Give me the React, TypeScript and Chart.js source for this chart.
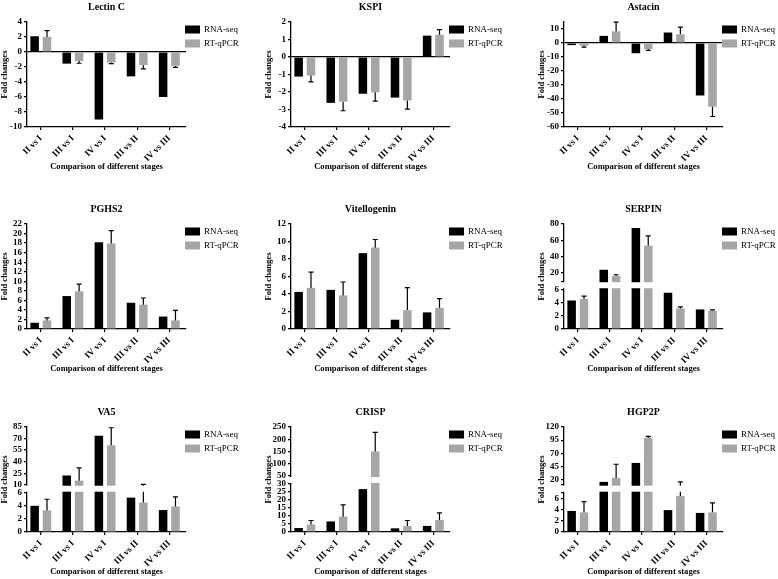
import React, { useEffect, useRef } from 'react';
import { Chart, registerables, LinearScale } from 'chart.js';

Chart.register(...registerables);

const SERIF = "'Liberation Serif', 'Times New Roman', serif";
Chart.defaults.font.family = SERIF;
Chart.defaults.color = '#000';

// ---------------- data ----------------
const categories = ['II vs I', 'III vs I', 'IV vs I', 'III vs II', 'IV vs III'];
const seriesLabels = ['RNA-seq', 'RT-qPCR'];
const xAxisTitle = 'Comparison of different stages';
const yAxisTitle = 'Fold changes';

const lectinRna = [2.1, -1.55, -9.0, -3.25, -6.0];
const lectinQpcr = [2.0, -1.2, -1.4, -1.75, -1.85];
const lectinErr = [0.85, 0.3, 0.15, 0.5, 0.2];
const lectinTicks = [-10, -8, -6, -4, -2, 0, 2, 4];
const lectinRange = [[-10, 4]];

const kspiRna = [-1.12, -2.62, -2.1, -2.32, 1.22];
const kspiQpcr = [-1.06, -2.55, -2.02, -2.48, 1.27];
const kspiErr = [0.36, 0.52, 0.5, 0.5, 0.3];
const kspiTicks = [-4, -3, -2, -1, 0, 1, 2];
const kspiRange = [[-4, 2]];

const astacinRna = [-1.5, 5.1, -7.3, 7.5, -37.5];
const astacinQpcr = [-2.0, 8.3, -4.3, 6.2, -45.5];
const astacinErr = [1.0, 6.6, 1.0, 5.2, 7.0];
const astacinTicks = [-60, -50, -40, -30, -20, -10, 0, 10];
const astacinRange = [[-60, 15]];

const pghs2Rna = [1.3, 6.9, 18.2, 5.5, 2.6];
const pghs2Qpcr = [1.8, 7.9, 17.9, 5.1, 1.8];
const pghs2Err = [0.55, 1.5, 2.7, 1.4, 2.1];
const pghs2Ticks = [0, 2, 4, 6, 8, 10, 12, 14, 16, 18, 20, 22];
const pghs2Range = [[0, 22]];

const vitRna = [4.24, 4.47, 8.67, 1.06, 1.9];
const vitQpcr = [4.7, 3.84, 9.3, 2.16, 2.42];
const vitErr = [1.8, 1.53, 0.93, 2.57, 1.06];
const vitTicks = [0, 2, 4, 6, 8, 10, 12];
const vitRange = [[0, 12]];

const serpinRna = [4.3, 24, 75, 5.47, 2.95];
const serpinQpcr = [4.5, 16.3, 53.5, 3.1, 2.74];
const serpinErr = [0.45, 1.6, 12, 0.25, 0.15];
const serpinTicks = [0, 2, 4, 6, 10, 20, 40, 60, 80];
const serpinUnlabeled = [10];
const serpinRange = [[0, 6], [10, 80]];

const va5Rna = [4.0, 22, 73.5, 5.25, 3.35];
const va5Qpcr = [3.3, 15.3, 61.4, 4.5, 3.9];
const va5Err = [1.7, 16.7, 22.6, 6.0, 1.45];
const va5Ticks = [0, 2, 4, 6, 10, 25, 40, 55, 70, 85];
const va5Range = [[0, 6], [10, 85]];

const crispRna = [2.5, 6.6, 26.8, 2.3, 3.8];
const crispQpcr = [4.7, 9.6, 150, 3.7, 7.5];
const crispErr = [2.5, 7.4, 78, 3.5, 4.4];
const crispTicks = [0, 5, 10, 15, 20, 25, 30, 50, 100, 150, 200, 250];
const crispRange = [[0, 30], [50, 250]];

const hgpRna = [3.75, 15.4, 51.5, 3.9, 3.4];
const hgpQpcr = [3.5, 23, 99, 6.4, 3.5];
const hgpErr = [1.9, 26, 3, 9.1, 1.7];
const hgpTicks = [0, 2, 4, 6, 7, 10, 20, 45, 70, 95, 120];
const hgpUnlabeled = [7, 10];
const hgpRange = [[0, 7], [10, 120]];

// ---------------- layout ----------------
const Y_AXIS_W = 28;
const PLOT_W = 159;
const X_AXIS_H = 47;
const CANVAS_H = 174;
const GAP = 8;
const COL_LEFT = [-1, 263, 536];
const COL_W = [262, 262, 242];
const ROW_TOP = [0, 202, 405];

type PanelDef = {
  title: string;
  rna: number[];
  qpcr: number[];
  err: number[];
  ticks: number[];
  unlabeled: number[];
  segments: number[][];
  lowerFrac: number;
  col: number;
  row: number;
};

const PANELS: PanelDef[] = [
  { title: 'Lectin C', rna: lectinRna, qpcr: lectinQpcr, err: lectinErr, ticks: lectinTicks, unlabeled: [], segments: lectinRange, lowerFrac: 1, col: 0, row: 0 },
  { title: 'KSPI', rna: kspiRna, qpcr: kspiQpcr, err: kspiErr, ticks: kspiTicks, unlabeled: [], segments: kspiRange, lowerFrac: 1, col: 1, row: 0 },
  { title: 'Astacin', rna: astacinRna, qpcr: astacinQpcr, err: astacinErr, ticks: astacinTicks, unlabeled: [], segments: astacinRange, lowerFrac: 1, col: 2, row: 0 },
  { title: 'PGHS2', rna: pghs2Rna, qpcr: pghs2Qpcr, err: pghs2Err, ticks: pghs2Ticks, unlabeled: [], segments: pghs2Range, lowerFrac: 1, col: 0, row: 1 },
  { title: 'Vitellogenin', rna: vitRna, qpcr: vitQpcr, err: vitErr, ticks: vitTicks, unlabeled: [], segments: vitRange, lowerFrac: 1, col: 1, row: 1 },
  { title: 'SERPIN', rna: serpinRna, qpcr: serpinQpcr, err: serpinErr, ticks: serpinTicks, unlabeled: serpinUnlabeled, segments: serpinRange, lowerFrac: 0.41, col: 2, row: 1 },
  { title: 'VA5', rna: va5Rna, qpcr: va5Qpcr, err: va5Err, ticks: va5Ticks, unlabeled: [], segments: va5Range, lowerFrac: 0.405, col: 0, row: 2 },
  { title: 'CRISP', rna: crispRna, qpcr: crispQpcr, err: crispErr, ticks: crispTicks, unlabeled: [], segments: crispRange, lowerFrac: 0.495, col: 1, row: 2 },
  { title: 'HGP2P', rna: hgpRna, qpcr: hgpQpcr, err: hgpErr, ticks: hgpTicks, unlabeled: hgpUnlabeled, segments: hgpRange, lowerFrac: 0.405, col: 2, row: 2 },
];

const SCALE_CFG: Record<string, PanelDef> = {};
PANELS.forEach((p) => { SCALE_CFG[p.title] = p; });

// ---------------- broken (segmented) linear scale ----------------
class BrokenLinearScale extends LinearScale {
  static id = 'brokenLinear';

  cfg(): PanelDef {
    return SCALE_CFG[(this.options as any).panelKey];
  }
  determineDataLimits() {
    const segs = this.cfg().segments;
    (this as any).min = segs[0][0];
    (this as any).max = segs[segs.length - 1][1];
  }
  buildTicks() {
    (this as any).start = (this as any).min;
    (this as any).end = (this as any).max;
    return this.cfg().ticks.map((v) => ({ value: v })) as any;
  }
  toDecimal(v: number): number {
    const cfg = this.cfg();
    const segs = cfg.segments;
    const L = Math.abs((this as any)._length || 0);
    if (segs.length === 1 || !L) {
      const a = segs[0][0];
      const b = segs[segs.length - 1][1];
      return (v - a) / (b - a);
    }
    const [a0, a1] = segs[0];
    const [b0, b1] = segs[1];
    const avail = L - GAP;
    const h1 = avail * cfg.lowerFrac;
    const h2 = avail - h1;
    let p: number;
    if (v <= a1) p = ((v - a0) / (a1 - a0)) * h1;
    else if (v < b0) p = h1 + ((v - a1) / (b0 - a1)) * GAP;
    else p = h1 + GAP + ((v - b0) / (b1 - b0)) * h2;
    return p / L;
  }
  getPixelForValue(value: any) {
    if (value === null || value === undefined || isNaN(value)) return NaN;
    return this.getPixelForDecimal(this.toDecimal(+value));
  }
  getValueForPixel(pixel: number) {
    const d = this.getDecimalForPixel(pixel);
    const cfg = this.cfg();
    const segs = cfg.segments;
    const L = Math.abs((this as any)._length || 0);
    if (segs.length === 1 || !L) {
      const a = segs[0][0];
      const b = segs[segs.length - 1][1];
      return a + d * (b - a);
    }
    const [a0, a1] = segs[0];
    const [b0, b1] = segs[1];
    const avail = L - GAP;
    const h1 = avail * cfg.lowerFrac;
    const h2 = avail - h1;
    const p = d * L;
    if (p <= h1) return a0 + (p / h1) * (a1 - a0);
    if (p < h1 + GAP) return a1 + ((p - h1) / GAP) * (b0 - a1);
    return b0 + ((p - h1 - GAP) / h2) * (b1 - b0);
  }
}
Chart.register(BrokenLinearScale as any);

// ---------------- plugins ----------------
function makeErrorPlugin(p: PanelDef) {
  return {
    id: 'errorBars',
    afterDatasetsDraw(chart: any) {
      const meta = chart.getDatasetMeta(1);
      const y = chart.scales.y;
      const ctx = chart.ctx;
      ctx.save();
      ctx.strokeStyle = '#000';
      ctx.lineWidth = 1.2;
      meta.data.forEach((bar: any, i: number) => {
        const v = p.qpcr[i];
        const e = p.err[i];
        const sign = v >= 0 ? 1 : -1;
        const y0 = y.getPixelForValue(v);
        const y1 = y.getPixelForValue(v + sign * e);
        ctx.beginPath();
        ctx.moveTo(bar.x, y0);
        ctx.lineTo(bar.x, y1);
        ctx.moveTo(bar.x - 2.5, y1);
        ctx.lineTo(bar.x + 2.5, y1);
        ctx.stroke();
      });
      ctx.restore();
    },
  };
}

function makeGapPlugin(p: PanelDef) {
  return {
    id: 'axisGap',
    afterDraw(chart: any) {
      if (p.segments.length < 2) return;
      const y = chart.scales.y;
      const area = chart.chartArea;
      const yLow = y.getPixelForValue(p.segments[0][1]);
      const yUp = y.getPixelForValue(p.segments[1][0]);
      const ctx = chart.ctx;
      ctx.save();
      ctx.fillStyle = '#fff';
      ctx.fillRect(area.left - 2, yUp + 1, area.right - area.left + 4, yLow - yUp - 2);
      ctx.restore();
    },
  };
}

const legendPlugin = {
  id: 'sideLegend',
  afterDraw(chart: any) {
    const area = chart.chartArea;
    const ctx = chart.ctx;
    ctx.save();
    ctx.font = `9px ${SERIF}`;
    ctx.textBaseline = 'middle';
    ctx.textAlign = 'left';
    chart.data.datasets.forEach((ds: any, i: number) => {
      const cy = area.top + 7.5 + i * 14;
      ctx.fillStyle = ds.backgroundColor;
      ctx.fillRect(area.right - 1, cy - 4, 15, 8);
      ctx.fillStyle = '#000';
      ctx.fillText(ds.label, area.right + 18, cy);
    });
    ctx.restore();
  },
};

// ---------------- component ----------------
function Panel({ p }: { p: PanelDef }) {
  const ref = useRef<HTMLCanvasElement>(null);
  const left = COL_LEFT[p.col];
  const top = ROW_TOP[p.row];
  const width = COL_W[p.col];
  const rightPad = width - Y_AXIS_W - PLOT_W;
  const hasNeg = p.segments[0][0] < 0;

  useEffect(() => {
    if (!ref.current) return;
    const chart = new Chart(ref.current, {
      type: 'bar',
      data: {
        datasets: [
          {
            label: seriesLabels[0],
            data: p.rna.map((v, i) => ({ x: i, y: v })),
            backgroundColor: '#000000',
            borderWidth: 0,
            categoryPercentage: 0.77,
            barPercentage: 0.69,
          },
          {
            label: seriesLabels[1],
            data: p.qpcr.map((v, i) => ({ x: i, y: v })),
            backgroundColor: '#a6a6a6',
            borderWidth: 0,
            categoryPercentage: 0.77,
            barPercentage: 0.69,
          },
        ],
      } as any,
      options: {
        animation: false,
        responsive: false,
        devicePixelRatio: 1,
        events: [],
        layout: { padding: { left: 0, right: rightPad, top: 0, bottom: 0 } },
        plugins: {
          legend: { display: false },
          tooltip: { enabled: false },
          title: {
            display: true,
            text: p.title,
            fullSize: false,
            font: { size: 10, weight: 'bold' },
            color: '#000',
            padding: { top: 1, bottom: 9 },
          },
        },
        scales: {
          x: {
            type: 'linear',
            min: -0.43,
            max: 4.52,
            offset: false,
            afterBuildTicks: (s: any) => {
              s.ticks = categories.map((_, i) => ({ value: i }));
            },
            afterFit: (s: any) => {
              s.height = X_AXIS_H;
            },
            grid: {
              display: true,
              drawOnChartArea: false,
              drawTicks: true,
              tickLength: 3,
              tickColor: '#000',
              offset: false,
              lineWidth: 1.2,
            },
            border: { display: true, color: '#000', width: 1.3 },
            ticks: {
              autoSkip: false,
              minRotation: 45,
              maxRotation: 45,
              padding: 3,
              color: '#000',
              font: { size: 9, weight: 'bold' },
              callback: (v: any) => categories[v] ?? '',
            },
            title: {
              display: true,
              text: xAxisTitle,
              color: '#000',
              font: { size: 8.6, weight: 'bold' },
              padding: { top: 0, bottom: 2 },
            },
          },
          y: {
            type: 'brokenLinear',
            panelKey: p.title,
            afterFit: (s: any) => {
              s.width = Y_AXIS_W;
            },
            grid: {
              display: true,
              drawOnChartArea: true,
              drawTicks: true,
              tickLength: 3,
              tickColor: '#000',
              lineWidth: 1.2,
              color: (c: any) => (hasNeg && c.tick && c.tick.value === 0 ? '#000' : 'rgba(0,0,0,0)'),
            },
            border: { display: true, color: '#000', width: 1.3 },
            ticks: {
              autoSkip: false,
              padding: 2,
              color: '#000',
              font: { size: 9, weight: 'bold' },
              callback: (v: any) => (p.unlabeled.includes(v) ? '' : String(v)),
            },
            title: {
              display: true,
              text: yAxisTitle,
              color: '#000',
              font: { size: 8.6, weight: 'bold' },
              padding: { top: 1, bottom: 0 },
            },
          } as any,
        },
      } as any,
      plugins: [makeErrorPlugin(p), makeGapPlugin(p), legendPlugin],
    });
    return () => chart.destroy();
  }, []);

  return (
    <canvas
      ref={ref}
      width={width}
      height={CANVAS_H}
      style={{ position: 'absolute', left, top, width, height: CANVAS_H }}
    />
  );
}

export default function App() {
  return (
    <div
      style={{
        position: 'fixed',
        left: 0,
        top: 0,
        width: 778,
        height: 579,
        overflow: 'hidden',
        background: '#fff',
      }}
    >
      {PANELS.map((p) => (
        <Panel key={p.title} p={p} />
      ))}
    </div>
  );
}
